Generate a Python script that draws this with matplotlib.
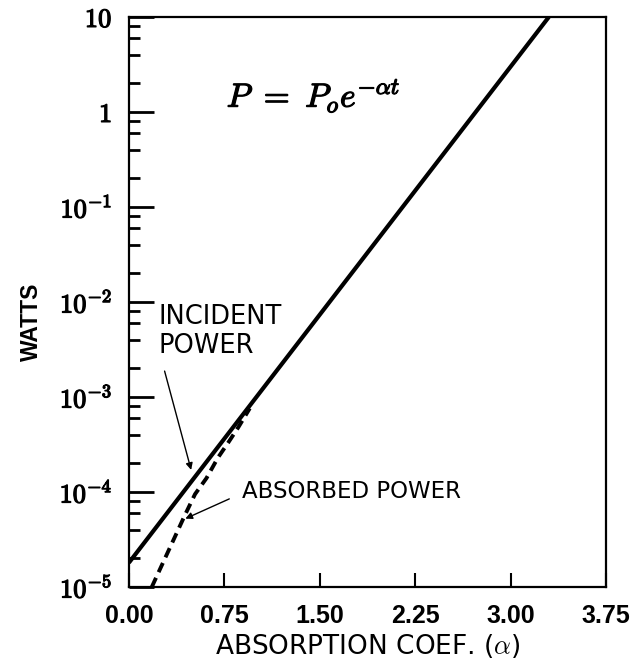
import matplotlib
matplotlib.use('Agg')
import matplotlib.pyplot as plt
import matplotlib.patheffects as pe
from matplotlib.ticker import LogLocator, FixedLocator, NullFormatter

plt.rcParams['mathtext.fontset'] = 'cm'

# values
incident_alpha = [0.0, 3.30]
incident_watts = [1.8e-5, 10.0]

absorbed_alpha = [0.18, 0.44, 0.52, 0.61, 0.70, 0.78, 0.86, 0.95]
absorbed_watts = [1.0e-5, 5.7e-5, 9.5e-5, 1.4e-4, 2.3e-4, 3.3e-4, 4.8e-4, 7.6e-4]

x_ticks = [0.0, 0.75, 1.50, 2.25, 3.00, 3.75]
x_ticklabels = ['0.00', '0.75', '1.50', '2.25', '3.00', '3.75']
y_ticks = [1e-5, 1e-4, 1e-3, 1e-2, 1e-1, 1, 10]
y_ticklabels = [r'$\mathbf{10^{-5}}$', r'$\mathbf{10^{-4}}$', r'$\mathbf{10^{-3}}$',
                r'$\mathbf{10^{-2}}$', r'$\mathbf{10^{-1}}$', r'$\mathbf{1}$', r'$\mathbf{10}$']

SANS = ['DejaVu Sans']
NARROW = ['Liberation Sans', 'DejaVu Sans']
bold_fx = [pe.withStroke(linewidth=0.9, foreground='k')]

fig = plt.figure(figsize=(6.38, 6.66), dpi=100)
ax = fig.add_axes([0.202, 0.1186, 0.748, 0.8559])

ax.plot(incident_alpha, incident_watts, color='k', lw=3.0, solid_capstyle='butt')
ax.plot(absorbed_alpha, absorbed_watts, color='k', lw=2.8, ls=(0, (2.6, 1.6)))

ax.set_yscale('log')
ax.set_xlim(0, 3.75)
ax.set_ylim(1e-5, 10)

for s in ax.spines.values():
    s.set_linewidth(1.6)

ax.xaxis.set_major_locator(FixedLocator(x_ticks))
ax.set_xticklabels(x_ticklabels, family=NARROW, fontweight='bold', fontsize=18)
ax.tick_params(axis='x', direction='in', length=10, width=1.5, pad=12, top=False)

ax.yaxis.set_major_locator(FixedLocator(y_ticks))
ax.set_yticklabels(y_ticklabels, fontsize=19)
for lbl in ax.get_yticklabels():
    lbl.set_path_effects(bold_fx)
ax.yaxis.set_minor_locator(LogLocator(base=10, subs=[2, 4, 6, 8]))
ax.yaxis.set_minor_formatter(NullFormatter())
ax.tick_params(axis='y', which='major', direction='in', length=18, width=2.0, pad=12, right=False)
ax.tick_params(axis='y', which='minor', direction='in', length=8, width=2.0, right=False)

ax.set_xlabel(r'ABSORPTION COEF. ($\alpha$)', family=SANS, fontsize=19, labelpad=3)
ax.set_ylabel('WATTS', family=NARROW, fontsize=16.5, fontweight='bold')
ax.yaxis.set_label_coords(-0.18, 0.465)

ax.text(0.205, 0.862, r'$P\ =\ P_o e^{-\alpha t}$', transform=ax.transAxes,
        fontsize=24, ha='left', va='center', path_effects=bold_fx)

ax.text(0.062, 0.449, 'INCIDENT\nPOWER', transform=ax.transAxes, family=SANS,
        fontsize=18.5, ha='left', va='center', linespacing=1.15)
ax.annotate('', xy=(0.495, 1.6e-4), xytext=(0.275, 2.0e-3),
            arrowprops=dict(arrowstyle='-|>', color='k', lw=1.0, mutation_scale=10))

ax.text(0.89, 1.02e-4, 'ABSORBED POWER', family=SANS, fontsize=16.5, ha='left', va='center')
ax.annotate('', xy=(0.424, 5.1e-5), xytext=(0.809, 8.7e-5),
            arrowprops=dict(arrowstyle='-|>', color='k', lw=1.0, mutation_scale=10))

fig.savefig('out.png', dpi=100)
